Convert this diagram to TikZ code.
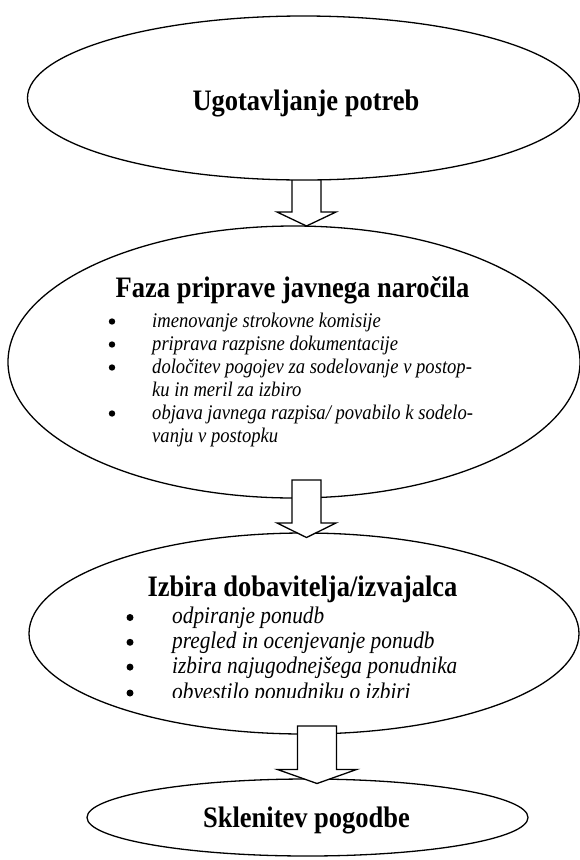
\documentclass[tikz,border=0pt]{standalone}
\usepackage{fontspec}
\setmainfont{Liberation Serif}
\usetikzlibrary{shapes.geometric}
\newcommand\tallA[1]{\scalebox{1}[1.12]{#1}}
\begin{document}
\begin{tikzpicture}[x=1pt,y=-1pt]
\tikzset{
  phase/.style={ellipse, draw, line width=1.3pt, inner sep=0pt, fill=white},
  ttl/.style={font=\fontsize{26.5}{30}\selectfont\bfseries, inner sep=0pt, anchor=base},
  itemA/.style={font=\fontsize{18.6}{22}\selectfont\itshape, inner sep=0pt, anchor=base west},
  itemB/.style={font=\fontsize{21.3}{24}\selectfont\itshape, inner sep=0pt, anchor=base west},
  bulA/.style={circle, fill=black, inner sep=0pt, minimum size=6.4pt},
  bulB/.style={circle, fill=black, inner sep=0pt, minimum size=7pt},
  blockarrow/.style={draw, fill=white, line width=1.3pt, line join=miter}
}
\useasboundingbox (0,0) rectangle (579,860);
% ellipses 2-4
\node[phase, minimum width=572pt, minimum height=272pt] (e2) at (294,362) {};
\node[phase, minimum width=550pt, minimum height=201pt] (e3) at (304,633.5) {};
\node[phase, minimum width=441pt, minimum height=77pt] (e4) at (307.5,817.5) {};
% block arrows
\draw[blockarrow] (292,176) -- (292,212) -- (277,212) -- (306.5,226) -- (336,212) -- (321,212) -- (321,176) -- cycle;
\draw[blockarrow] (292,480) -- (292,523) -- (277,523) -- (306.5,537.5) -- (336,523) -- (321,523) -- (321,480) -- cycle;
\draw[blockarrow] (297.5,726) -- (297.5,769.5) -- (277.5,769.5) -- (317,783.5) -- (356.5,769.5) -- (336.5,769.5) -- (336.5,726) -- cycle;
% ellipse 1
\node[phase, minimum width=552pt, minimum height=164pt] (e1) at (303.5,98) {};
% titles
\node[ttl] (t1) at (306,110) {\tallA{Ugotavljanje potreb}};
\node[ttl] (t2) at (292.5,297.5) {\tallA{Faza priprave javnega naročila}};
\node[ttl] (t3) at (302.5,596) {\tallA{Izbira dobavitelja/izvajalca}};
\node[ttl] (t4) at (306.5,827) {\tallA{Sklenitev pogodbe}};
% box 2 items
\node[bulA] (b21) at (112,321.5) {};
\node[itemA] (i21) at (152,327) {\tallA{imenovanje strokovne komisije}};
\node[bulA] (b22) at (112,344.5) {};
\node[itemA] (i22) at (152,350) {\tallA{priprava razpisne dokumentacije}};
\node[bulA] (b23) at (112,367.5) {};
\node[itemA] (i23) at (152,373) {\tallA{določitev pogojev za sodelovanje v postop-}};
\node[itemA] (i23b) at (152,396) {\tallA{ku in meril za izbiro}};
\node[bulA] (b24) at (112,413.5) {};
\node[itemA] (i24) at (152,419) {\tallA{objava javnega razpisa/ povabilo k sodelo-}};
\node[itemA] (i24b) at (152,442) {\tallA{vanju v postopku}};
% box 3 items (last line cut by its text frame)
\begin{scope}
\clip (0,520) rectangle (579,697);
\node[bulB] (b31) at (130,617.5) {};
\node[itemB] (i31) at (172,623.5) {\tallA{odpiranje ponudb}};
\node[bulB] (b32) at (130,642.3) {};
\node[itemB] (i32) at (172,648.3) {\tallA{pregled in ocenjevanje ponudb}};
\node[bulB] (b33) at (130,667.1) {};
\node[itemB] (i33) at (172,673.1) {\tallA{izbira najugodnejšega ponudnika}};
\node[bulB] (b34) at (130,693) {};
\node[itemB] (i34) at (172,699) {\tallA{obvestilo ponudniku o izbiri}};
\end{scope}
\end{tikzpicture}
\end{document}
